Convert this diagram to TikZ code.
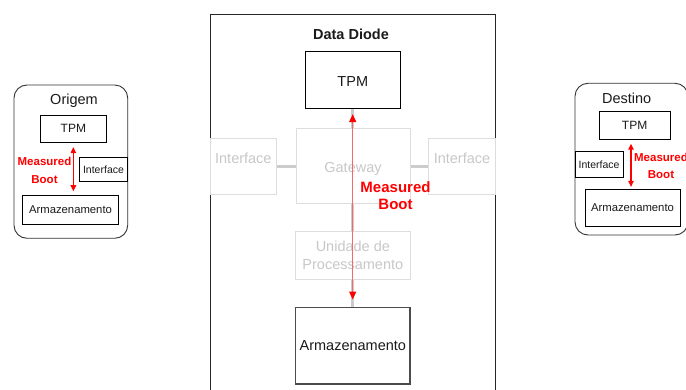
\documentclass[tikz,border=0pt]{standalone}
\usepackage{fontspec}
\setmainfont{Liberation Sans}
\usetikzlibrary{arrows.meta}
\definecolor{txt}{HTML}{1A1A1A}
\definecolor{fadetxt}{HTML}{C8C8C8}
\definecolor{fadeline}{HTML}{DDDDDD}
\definecolor{conn}{HTML}{CCCCCC}
\definecolor{mbred}{HTML}{FF0000}
\definecolor{mbline}{HTML}{F26A6A}
\newcommand{\fs}[1]{\fontsize{#1}{#1}\selectfont}
\begin{document}
\begin{tikzpicture}[x=1pt,y=-1pt,
  box/.style={draw=black,line width=0.9pt,fill=white,inner sep=0pt,text=txt},
  fadebox/.style={draw=fadeline,line width=1pt,fill=white,inner sep=0pt,text=fadetxt},
  group/.style={draw=black!80,line width=0.9pt,rounded corners=13pt,inner sep=0pt},
  gconn/.style={draw=conn,line width=3pt},
  mbarrow/.style={draw=mbline,line width=1.4pt,{Triangle[color=mbred,length=8pt,width=7pt]}-{Triangle[color=mbred,length=8pt,width=7pt]}},
  mbsmall/.style={draw=mbred,line width=1.1pt,{Triangle[length=6pt,width=5.5pt]}-{Triangle[length=6pt,width=5.5pt]}},
  mbtext/.style={text=mbred,font=\bfseries\fontsize{15}{17.6}\selectfont,align=center,inner sep=0pt},
  mbtexts/.style={text=mbred,font=\bfseries\fontsize{11.5}{17.6}\selectfont,align=center,inner sep=0pt},
]
\useasboundingbox (0,0) rectangle (686,390);

% ---------- Data Diode ----------
\node[draw=black!85,line width=0.9pt,minimum width=285.3pt,minimum height=381pt,inner sep=0pt] (diode) at (352.65,204.8) {};
\node[font=\bfseries\fs{14.5},text=txt,inner sep=0pt] (title) at (351,34) {Data Diode};
\node[box,minimum width=95pt,minimum height=57pt,
      label={[text=txt,font=\fs{14.5},inner sep=0pt,yshift=-1.5pt]center:TPM}] (tpmD) at (352.8,80.2) {};

\node[fadebox,minimum width=66.7pt,minimum height=56.7pt,
      label={[text=fadetxt,font=\fs{14.5},inner sep=0pt,yshift=8.5pt]center:Interface}] (ifL) at (243.35,166.65) {};
\node[fadebox,minimum width=114pt,minimum height=75.7pt,
      label={[text=fadetxt,font=\fs{14.5},inner sep=0pt,yshift=-2.5pt]center:Gateway}] (gw) at (353,166.15) {};
\node[fadebox,minimum width=66.6pt,minimum height=56.7pt,
      label={[text=fadetxt,font=\fs{14.5},inner sep=0pt,yshift=8.5pt]center:Interface}] (ifR) at (462,166.65) {};
\node[fadebox,minimum width=114.3pt,minimum height=47.6pt,font=\fontsize{14.5}{18.3}\selectfont,align=center] (up) at (352.85,255.5) {Unidade de\\Processamento};
\node[box,draw=black!70,line width=1.3pt,minimum width=114.3pt,minimum height=76.3pt,font=\fs{14.5}] (arm) at (352.85,345.85) {Armazenamento};

\coordinate (vx) at (352.7,0);
\draw[gconn] (ifL.east) -- (gw.west |- ifL.east);
\draw[gconn] (gw.east |- ifR.west) -- (ifR.west);
\draw[gconn] (tpmD.south -| vx) -- (gw.north -| vx);
\draw[gconn] (gw.south -| vx) -- (up.north -| vx);
\draw[gconn] (up.south -| vx) -- (arm.north -| vx);
\draw[mbarrow,shorten <=5pt,shorten >=7.5pt] (tpmD.south -| vx) -- (arm.north -| vx);
\node[mbtext] (mbD) at (395.5,195.5) {Measured\\Boot};

% ---------- Origem ----------
\node[group,minimum width=113.7pt,minimum height=153.3pt] (orig) at (70.85,161.65) {};
\node[font=\fs{14.5},text=txt,inner sep=0pt] (origT) at (74,100.7) {Origem};
\node[box,minimum width=66.7pt,minimum height=27.7pt,font=\fs{12}] (tpmO) at (73.35,128.85) {TPM};
\node[box,minimum width=48.4pt,minimum height=24.4pt,font=\fs{10.5}] (ifO) at (103.5,169.5) {Interface};
\node[box,minimum width=95.6pt,minimum height=29pt,font=\fs{11.3}] (armO) at (70.5,209.5) {Armazenamento};
\draw[mbsmall,shorten <=4pt,shorten >=3.3pt] (tpmO.south) -- (tpmO.south |- armO.north);
\node[mbtexts] (mbO) at (44.5,170.5) {Measured\\Boot};

% ---------- Destino ----------
\node[group,minimum width=113pt,minimum height=151.7pt] (dest) at (631.5,159.15) {};
\node[font=\fs{14.5},text=txt,inner sep=0pt] (destT) at (626.7,98.3) {Destino};
\node[box,minimum width=70.7pt,minimum height=28.3pt,font=\fs{12}] (tpmR) at (634.65,125.15) {TPM};
\node[box,minimum width=48.3pt,minimum height=25.6pt,font=\fs{10.5}] (ifR2) at (599.15,164.5) {Interface};
\node[box,minimum width=95pt,minimum height=37.7pt,font=\fs{11.3}] (armR) at (632.5,207.85) {Armazenamento};
\coordinate (rx) at (631,0);
\draw[mbsmall,shorten <=4pt,shorten >=1.7pt] (tpmR.south -| rx) -- (armR.north -| rx);
\node[mbtexts] (mbR) at (661,166) {Measured\\Boot};
\end{tikzpicture}
\end{document}
